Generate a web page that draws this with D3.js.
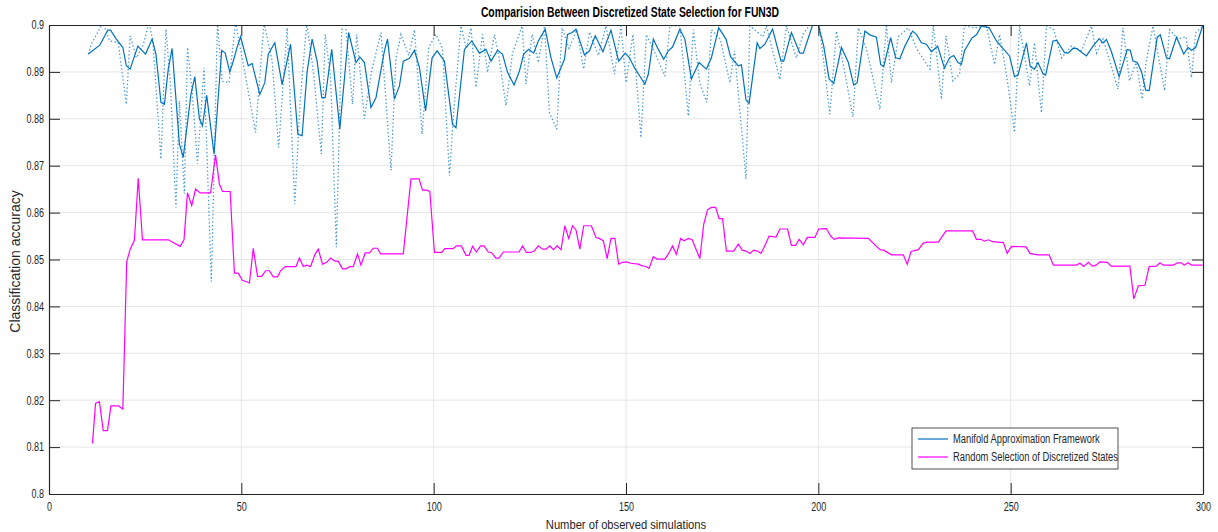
<!DOCTYPE html>
<html>
<head>
<meta charset="utf-8">
<script src="https://cdn.jsdelivr.net/npm/d3@7"></script>
<style>
  body { margin: 0; background: #fff; }
  svg text { font-family: "Liberation Sans", Arial, Helvetica, sans-serif; fill: #262626; }
</style>
</head>
<body>
<div id="vis"></div>
<script>
// smoothed curve of the manifold approach
var manifoldSmooth = [[10.2,0.8938],[13.2,0.8957],[15.3,0.8989],[16,0.8989],[17.5,0.897],[19.2,0.8952],[20.1,0.8913],[21.1,0.8906],[23.1,0.8955],[25.1,0.8938],[26.8,0.897],[27.8,0.8938],[29.1,0.8835],[30,0.8831],[31,0.8906],[32,0.895],[33.9,0.8746],[34.9,0.8718],[36.9,0.8852],[37.9,0.889],[39.1,0.880],[39.9,0.8785],[41,0.885],[42.9,0.8725],[44.9,0.8946],[45.8,0.894],[47,0.890],[47.8,0.892],[49,0.8955],[49.8,0.8975],[51.8,0.8913],[52.8,0.8918],[54.8,0.8852],[56.1,0.8877],[57,0.8938],[58.7,0.8962],[60.6,0.8873],[62.8,0.8959],[64.7,0.8767],[65.8,0.8764],[67.1,0.890],[68.4,0.897],[69.7,0.8923],[70.9,0.8845],[71.8,0.8845],[73.5,0.8948],[75.6,0.8778],[77.9,0.8984],[79.8,0.892],[80.8,0.8932],[82,0.892],[83.7,0.8824],[85,0.8845],[87.2,0.8945],[88,0.897],[89.8,0.8842],[91.1,0.887],[92.1,0.8923],[93.7,0.8929],[95,0.8946],[96.3,0.8909],[97.9,0.8817],[99.6,0.893],[100.9,0.8945],[102.8,0.8923],[104.9,0.8788],[105.8,0.8781],[108,0.8948],[109.9,0.8966],[111.9,0.894],[113.6,0.8948],[114.9,0.8923],[116.6,0.8946],[117.9,0.8938],[119.2,0.8899],[120.9,0.8872],[122.3,0.8902],[123.4,0.8938],[124.7,0.8948],[126,0.894],[127.2,0.8966],[129,0.8991],[130.5,0.893],[132,0.8887],[134,0.8927],[134.8,0.898],[136,0.8984],[137,0.8991],[139.2,0.8936],[140.5,0.8945],[142,0.8977],[144,0.8943],[146.1,0.8989],[148.1,0.8923],[149.8,0.894],[150.9,0.893],[152.2,0.8909],[153.9,0.8887],[154.9,0.8874],[155.8,0.8895],[157.1,0.897],[158.4,0.8948],[159.8,0.8927],[161,0.8945],[162.1,0.8953],[164,0.8991],[165.3,0.897],[167,0.8885],[169,0.892],[170.9,0.8906],[172.2,0.893],[174.1,0.8994],[176,0.897],[177.2,0.8932],[179.2,0.8913],[180,0.8915],[181.2,0.884],[182,0.8833],[184.1,0.8962],[184.8,0.895],[186.1,0.8959],[188.1,0.8991],[190.3,0.8923],[191,0.8923],[193,0.8984],[195.2,0.894],[196.1,0.894],[198.5,0.9],[200,0.9],[201.4,0.8955],[202.8,0.8885],[204,0.8875],[206,0.8952],[207.8,0.892],[209.2,0.8872],[210.1,0.8877],[212.1,0.8987],[213.4,0.8979],[215.1,0.8974],[216.2,0.8916],[217,0.8911],[218.8,0.8973],[220.1,0.893],[221.2,0.8928],[222.5,0.8955],[224.5,0.8987],[225.5,0.898],[226.8,0.8962],[228.1,0.8959],[229.4,0.8943],[231,0.8955],[232.8,0.8908],[234.1,0.893],[235.2,0.8935],[236.3,0.892],[237.2,0.8916],[238,0.8945],[239.9,0.8972],[241.1,0.8979],[242.4,0.8998],[244.4,0.8994],[246.3,0.8966],[249.7,0.8934],[251,0.889],[251.9,0.8893],[254.1,0.8962],[255.1,0.8911],[256.2,0.8906],[257.1,0.892],[258.4,0.8896],[259.1,0.8893],[261,0.8966],[262,0.8967],[264,0.8941],[264.9,0.894],[266.2,0.895],[267.1,0.895],[269.7,0.8934],[271.4,0.8955],[273,0.8971],[274,0.8962],[274.9,0.8969],[276.2,0.8943],[278.2,0.889],[280.3,0.8948],[281.1,0.8946],[281.8,0.8923],[282.9,0.892],[284,0.8901],[285.1,0.8861],[286,0.886],[288.1,0.8974],[288.9,0.8979],[290.5,0.893],[291.3,0.8928],[293.1,0.8974],[295,0.8938],[296.1,0.8952],[297,0.8946],[298.1,0.8952],[299.9,0.8998]];

// raw (dotted) accuracy of the manifold approach
var manifoldRaw = [[10.2,0.8938],[11,0.8959],[14,0.9005],[15.8,0.8966],[18,0.8962],[20.1,0.8831],[21.1,0.8977],[22.7,0.893],[24.4,0.8955],[26,0.9005],[27,0.8966],[29.1,0.8714],[30.4,0.8991],[31.6,0.887],[33,0.8611],[33.9,0.8838],[35.2,0.864],[36,0.8952],[37.2,0.886],[38.6,0.8704],[40.3,0.8909],[42.2,0.8453],[43.8,0.9005],[45,0.888],[46.8,0.8877],[48.5,0.9005],[51,0.8895],[53.7,0.8771],[55.9,0.9005],[58,0.8923],[59.7,0.8739],[61.9,0.8994],[63.9,0.8618],[65.3,0.8838],[67,0.9005],[68.8,0.8895],[70.8,0.8725],[71.8,0.898],[73.2,0.889],[74.7,0.8526],[76.1,0.8991],[77.2,0.899],[78.9,0.8831],[80,0.898],[82,0.88],[83.8,0.89],[86.3,0.8984],[88.9,0.869],[90.2,0.893],[91.5,0.898],[93.5,0.8935],[95,0.899],[97,0.8767],[98.7,0.8952],[100.6,0.898],[102.3,0.895],[104.1,0.8679],[105.3,0.8825],[107.1,0.8998],[108.5,0.895],[109.7,0.8994],[111,0.8867],[112.7,0.898],[114,0.8899],[115.8,0.898],[117,0.893],[118.8,0.8828],[120.5,0.894],[123,0.8998],[124,0.8874],[125.6,0.898],[127.2,0.892],[128.8,0.8998],[130.1,0.8813],[132,0.8778],[133.4,0.8994],[135.2,0.895],[137.2,0.899],[139,0.8906],[140.5,0.8985],[142.8,0.8935],[144.8,0.8998],[147,0.8895],[148.7,0.8998],[150,0.8877],[151.8,0.898],[153.9,0.876],[155.3,0.898],[157.8,0.8935],[160.1,0.8891],[161.4,0.8998],[164,0.8998],[166.2,0.8806],[167.5,0.899],[169.2,0.8875],[171,0.8835],[172.2,0.899],[174.5,0.897],[177,0.8877],[178.2,0.8945],[181.2,0.8672],[182.2,0.8998],[185.6,0.8975],[186.5,0.8998],[190,0.8884],[191.7,0.8998],[194.3,0.893],[196,0.898],[198.2,0.9005],[200.3,0.8998],[203,0.881],[204.7,0.8987],[206.5,0.8915],[209,0.8804],[210.4,0.8994],[212.5,0.895],[216,0.882],[217.7,0.8998],[219,0.8877],[220.8,0.8975],[223.4,0.8994],[225.5,0.895],[229,0.8906],[229.9,0.8998],[232,0.8842],[233.2,0.8977],[235,0.8881],[236.7,0.8895],[238,0.8998],[240.6,0.8994],[243.7,0.8998],[245.8,0.8916],[247.1,0.898],[248.9,0.8895],[251,0.8771],[252.3,0.8998],[254.9,0.887],[256.2,0.8962],[258,0.8813],[259.3,0.8998],[261.2,0.899],[263.2,0.893],[265.8,0.8955],[268.4,0.8945],[271,0.8998],[272.3,0.894],[274,0.897],[275.7,0.8925],[277.9,0.8863],[279.2,0.8994],[280.9,0.8881],[282.6,0.892],[284.2,0.8842],[285.2,0.892],[287,0.8998],[290,0.886],[291.3,0.899],[293.5,0.897],[295.6,0.8975],[297,0.8888],[298.1,0.8984],[300,0.8998]];

// random selection of discretized states
var randomSel = [[11.3,0.8108],[12.1,0.8193],[13.1,0.8197],[14.1,0.8135],[15.2,0.8135],[16.1,0.8188],[18,0.8188],[19.2,0.8181],[20.2,0.8495],[21.1,0.8522],[22.2,0.8541],[23.2,0.8673],[24.3,0.8542],[31,0.8542],[34.1,0.8528],[35.1,0.8542],[36,0.8642],[37.1,0.8615],[38.1,0.865],[39.3,0.8642],[42,0.8642],[43.3,0.8723],[44.3,0.8661],[45.1,0.8645],[47.1,0.8645],[48.2,0.8471],[49.2,0.8471],[50.3,0.8455],[51.2,0.8453],[52.1,0.845],[53.1,0.8524],[54.2,0.8464],[55.3,0.8464],[56.3,0.8476],[57.3,0.8476],[58.3,0.8463],[59.4,0.8463],[60.2,0.8476],[61.4,0.8485],[64.2,0.8485],[65.1,0.8503],[66.1,0.8485],[67,0.8488],[68,0.8485],[69.2,0.8512],[70,0.8522],[71.1,0.849],[72.2,0.8494],[73.2,0.8503],[74.2,0.8497],[75.2,0.8496],[76.3,0.848],[77.2,0.848],[78.2,0.8485],[79.1,0.8485],[80.2,0.8512],[81.1,0.8488],[82.2,0.8514],[83.3,0.8514],[84.3,0.8524],[85.4,0.8524],[86.2,0.8512],[92.1,0.8512],[94.1,0.8672],[96.2,0.8672],[97.1,0.8648],[98.2,0.8648],[99,0.8645],[100.2,0.8515],[102.1,0.8515],[102.9,0.8523],[105.1,0.8523],[105.9,0.8529],[107.2,0.8529],[108.4,0.8509],[109.2,0.8509],[110.1,0.8528],[111.1,0.8516],[112.2,0.8529],[113.1,0.8529],[114.2,0.8516],[115,0.8515],[116.2,0.8503],[117,0.8503],[118.1,0.8516],[122.2,0.8516],[123.1,0.8529],[124.1,0.8515],[125.2,0.8515],[126.1,0.8518],[127.2,0.8529],[128.3,0.8522],[129.2,0.8522],[130.2,0.8529],[131.1,0.8521],[132.1,0.8529],[133.1,0.8521],[134.1,0.8572],[135.1,0.8545],[136.1,0.8572],[137,0.8563],[138,0.8522],[139,0.8572],[141,0.8572],[142.2,0.8547],[143,0.8545],[144.1,0.854],[145.1,0.8502],[146.1,0.8545],[147.1,0.8545],[148.1,0.849],[149.1,0.8494],[150.1,0.8495],[151.2,0.8492],[153.2,0.849],[154,0.8487],[155.2,0.8485],[156,0.8481],[157.1,0.8506],[158.1,0.8501],[160.1,0.8501],[161.1,0.8513],[162.1,0.8529],[163.1,0.8511],[164.2,0.8545],[165.1,0.854],[166.2,0.8545],[167.2,0.8542],[168.2,0.8522],[169.2,0.8502],[170.2,0.8575],[171.2,0.8606],[172.2,0.8611],[173.3,0.8611],[174.2,0.8587],[175.1,0.8587],[176.1,0.8518],[178,0.8518],[179.2,0.8533],[180.2,0.852],[181.2,0.8518],[182.2,0.8513],[183.2,0.852],[184.2,0.8518],[185.1,0.8513],[186.3,0.8533],[187.2,0.855],[189,0.8548],[190,0.8565],[192,0.8565],[193,0.853],[194.1,0.853],[195,0.8543],[196.1,0.8531],[197.1,0.8547],[199.1,0.8547],[200.1,0.8565],[202.1,0.8566],[203.2,0.855],[204.1,0.8543],[205.2,0.8546],[213,0.8545],[216,0.8521],[217,0.852],[219,0.851],[222.1,0.851],[223.1,0.849],[224.1,0.8517],[226,0.8521],[227.3,0.8535],[228.3,0.8537],[231.2,0.8537],[233.2,0.8561],[240.1,0.8561],[241.1,0.8543],[242.3,0.8543],[243.1,0.8539],[244.2,0.8542],[245.3,0.8538],[248.1,0.8536],[249.1,0.8513],[250.2,0.8528],[254,0.8527],[255,0.8513],[256.9,0.851],[260,0.851],[261.1,0.8488],[267.1,0.8488],[268,0.8492],[269,0.8485],[270.2,0.8494],[271.2,0.8486],[272.2,0.8488],[273.2,0.8495],[275.1,0.8494],[276.1,0.8486],[281,0.8486],[282,0.8416],[283.2,0.8444],[284.9,0.8445],[286,0.8485],[287.9,0.8486],[288.8,0.8493],[289.7,0.8488],[292.3,0.8488],[293.4,0.8493],[294.4,0.8493],[295.1,0.8488],[296.2,0.8493],[297,0.8488],[299.9,0.8488]];

var xTicks = [0, 50, 100, 150, 200, 250, 300];
var yTicks = [0.8, 0.81, 0.82, 0.83, 0.84, 0.85, 0.86, 0.87, 0.88, 0.89, 0.9];
var legendNames = ["Manifold Approximation Framework", "Random Selection of Discretized States"];
var legendColors = ["#0072BD", "#FF00FF"];

var W = 1218, H = 532;
var plotL = 49, plotR = 1203, plotT = 25, plotB = 494;
var axisColor = "#262626";

// MATLAB text looks squeezed horizontally, shrink widths
function narrow(sel, k) {
    sel.each(function () {
        var w = this.getComputedTextLength();
        d3.select(this).attr("textLength", w * k).attr("lengthAdjust", "spacingAndGlyphs");
    });
}

var svg = d3.select("#vis").append("svg")
    .attr("width", W)
    .attr("height", H);

var x = d3.scaleLinear().domain([0, 300]).range([plotL, plotR]);
var y = d3.scaleLinear().domain([0.8, 0.9]).range([plotB, plotT]);

// grid
svg.append("g").selectAll("line")
    .data(xTicks.slice(1, -1))
    .enter().append("line")
    .attr("x1", d => x(d)).attr("x2", d => x(d))
    .attr("y1", plotT).attr("y2", plotB)
    .attr("stroke", "#e6e6e6").attr("stroke-width", 1);

svg.append("g").selectAll("line")
    .data(yTicks.slice(1, -1))
    .enter().append("line")
    .attr("x1", plotL).attr("x2", plotR)
    .attr("y1", d => y(d)).attr("y2", d => y(d))
    .attr("stroke", "#e6e6e6").attr("stroke-width", 1);

svg.append("clipPath").attr("id", "clip")
    .append("rect")
    .attr("x", plotL).attr("y", plotT)
    .attr("width", plotR - plotL).attr("height", plotB - plotT);

var line = d3.line().x(d => x(d[0])).y(d => y(d[1]));
var plot = svg.append("g").attr("clip-path", "url(#clip)");

plot.append("path")
    .datum(manifoldRaw)
    .attr("d", line)
    .attr("fill", "none")
    .attr("stroke", "#3f95d6")
    .attr("stroke-width", 1.3)
    .attr("stroke-dasharray", "1.3,2.4");

plot.append("path")
    .datum(manifoldSmooth)
    .attr("d", line)
    .attr("fill", "none")
    .attr("stroke", "#0072BD")
    .attr("stroke-width", 1.2);

plot.append("path")
    .datum(randomSel)
    .attr("d", line)
    .attr("fill", "none")
    .attr("stroke", "#FF00FF")
    .attr("stroke-width", 1.2);

// axes box with inward ticks on all four sides
var tickLen = 11;
var bottomAxis = svg.append("g")
    .attr("transform", "translate(0," + plotB + ")")
    .call(d3.axisBottom(x).tickValues(xTicks).tickSizeInner(-tickLen).tickSizeOuter(0).tickPadding(8));
var leftAxis = svg.append("g")
    .attr("transform", "translate(" + plotL + ",0)")
    .call(d3.axisLeft(y).tickValues(yTicks).tickFormat(d3.format("")).tickSizeInner(-tickLen).tickSizeOuter(0).tickPadding(5));
var topAxis = svg.append("g")
    .attr("transform", "translate(0," + plotT + ")")
    .call(d3.axisTop(x).tickValues(xTicks).tickSizeInner(-tickLen).tickSizeOuter(0).tickFormat(""));
var rightAxis = svg.append("g")
    .attr("transform", "translate(" + plotR + ",0)")
    .call(d3.axisRight(y).tickValues(yTicks).tickSizeInner(-tickLen).tickSizeOuter(0).tickFormat(""));

[bottomAxis, leftAxis, topAxis, rightAxis].forEach(function (g) {
    g.select(".domain").attr("stroke", axisColor).attr("stroke-width", 1.2);
    g.selectAll(".tick line").attr("stroke", axisColor).attr("stroke-width", 1);
    g.selectAll("text").attr("fill", axisColor)
        .style("font-family", "'Liberation Sans', Arial, sans-serif")
        .style("font-size", "12px");
});
narrow(bottomAxis.selectAll("text"), 0.75);
narrow(leftAxis.selectAll("text"), 0.75);

// title and labels
var title = svg.append("text")
    .attr("x", (plotL + plotR) / 2 + 4)
    .attr("y", 17)
    .attr("text-anchor", "middle")
    .style("font-size", "14px")
    .style("font-weight", "bold")
    .style("fill", "#000")
    .text("Comparision Between Discretized State Selection for FUN3D");
narrow(title, 0.74);

var xLabel = svg.append("text")
    .attr("x", (plotL + plotR) / 2)
    .attr("y", 529)
    .attr("text-anchor", "middle")
    .style("font-size", "13px")
    .text("Number of observed simulations");
narrow(xLabel, 0.86);

svg.append("text")
    .attr("transform", "translate(20," + ((plotT + plotB) / 2 + 2) + ") rotate(-90)")
    .attr("text-anchor", "middle")
    .style("font-size", "14px")
    .text("Classification accuracy");

// legend
var legend = svg.append("g").attr("transform", "translate(912,428)");
legend.append("rect")
    .attr("width", 206).attr("height", 41)
    .attr("fill", "#fff")
    .attr("stroke", axisColor)
    .attr("stroke-width", 0.8);

var items = legend.selectAll("g.item")
    .data(legendNames)
    .enter().append("g")
    .attr("transform", (d, i) => "translate(0," + (11 + i * 18) + ")");
items.append("line")
    .attr("x1", 6).attr("x2", 36)
    .attr("stroke", (d, i) => legendColors[i])
    .attr("stroke-width", 1.2);
var legendText = items.append("text")
    .attr("x", 41)
    .attr("dy", "0.35em")
    .style("font-size", "12px")
    .text(d => d);
narrow(legendText, 0.78);
</script>
</body>
</html>
